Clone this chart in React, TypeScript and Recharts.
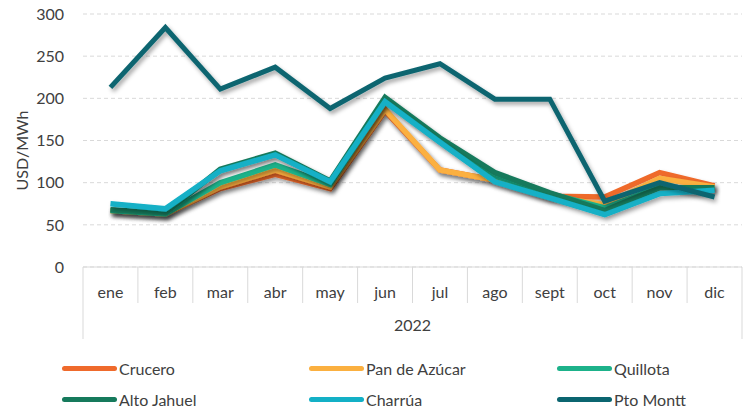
import { LineChart, Line, XAxis, YAxis, CartesianGrid, Legend } from 'recharts'

const meses = ['ene', 'feb', 'mar', 'abr', 'may', 'jun', 'jul', 'ago', 'sept', 'oct', 'nov', 'dic']
const crucero = [67, 63, 93, 110, 93, 185, 115, 103, 84, 83, 112, 96]
const panDeAzucar = [67, 63, 95, 115, 95, 187, 115, 103, 83, 74, 105, 95]
const quillota = [67, 63, 100, 121, 98, 198, 150, 108, 87, 70, 95, 92]
const altoJahuel = [68, 64, 116, 135, 102, 201, 153, 112, 88, 67, 94, 94]
const charrua = [75, 69, 114, 133, 101, 196, 148, 101, 82, 62, 87, 91]
const ptoMontt = [213, 284, 211, 237, 188, 224, 241, 199, 199, 78, 100, 83]
const yTicks = [0, 50, 100, 150, 200, 250, 300]
const anio = '2022'

const series = [
  { key: 'Crucero', values: crucero, color: '#EF6A2C' },
  { key: 'Pan de Azúcar', values: panDeAzucar, color: '#FBB040' },
  { key: 'Quillota', values: quillota, color: '#1DB28A' },
  { key: 'Alto Jahuel', values: altoJahuel, color: '#167A5C' },
  { key: 'Charrúa', values: charrua, color: '#13B0C6' },
  { key: 'Pto Montt', values: ptoMontt, color: '#0B6570' },
]

const data = meses.map((mes, i) => {
  const row: Record<string, string | number> = { mes }
  for (const s of series) row[s.key] = s.values[i]
  return row
})

const W = 743
const H = 411
const LEFT = 83
const RIGHT = 1
const BAND = (W - LEFT - RIGHT) / meses.length
const FONT = 'Lato, "Noto Sans", sans-serif'
const TXT = '#404040'
const GRIS = '#D9D9D9'

function MesTick(props: any) {
  const { x, y, payload, index } = props
  const izq = x - BAND / 2
  const der = x + BAND / 2
  return (
    <g>
      <line x1={izq} x2={izq} y1={y} y2={y + (index === 0 ? 72 : 36)} stroke={GRIS} />
      {index === meses.length - 1 && (
        <line x1={der} x2={der} y1={y} y2={y + 72} stroke={GRIS} />
      )}
      <text x={x} y={y + 31} textAnchor="middle" fill={TXT} fontSize={16} fontFamily={FONT}>
        {payload.value}
      </text>
    </g>
  )
}

// etiqueta del eje Y, un poco bajo el centro como en el original
function EtiquetaY(props: any) {
  const vb = props.viewBox ?? { y: 14, height: 253 }
  const cy = vb.y + vb.height / 2 + 10
  return (
    <text
      x={21}
      y={cy}
      transform={`rotate(-90, 21, ${cy})`}
      textAnchor="middle"
      dominantBaseline="central"
      fill={TXT}
      fontSize={16}
      fontFamily={FONT}
    >
      USD/MWh
    </text>
  )
}

function Leyenda() {
  const cols = [62, 309, 557]
  return (
    <div style={{ position: 'relative', width: W, height: 72, fontFamily: FONT }}>
      {series.map((s, i) => (
        <div
          key={s.key}
          style={{
            position: 'absolute',
            left: cols[i % 3],
            top: i < 3 ? 19 : 50,
            height: 20,
            display: 'flex',
            alignItems: 'center',
            fontSize: 16,
            color: TXT,
          }}
        >
          <span
            style={{
              display: 'inline-block',
              width: 55,
              height: 5,
              borderRadius: 3,
              background: s.color,
              marginRight: 2,
            }}
          />
          {s.key}
        </div>
      ))}
    </div>
  )
}

export default function App() {
  return (
    <div style={{ position: 'absolute', left: 0, top: 0, background: '#fff' }}>
      <LineChart width={W} height={H} data={data} margin={{ top: 14, right: RIGHT, left: 0, bottom: 0 }}>
        <defs>
          <filter id="sombra" x="-10%" y="-10%" width="130%" height="140%">
            <feDropShadow dx="2" dy="3" stdDeviation="2" floodColor="#000" floodOpacity="0.35" />
          </filter>
        </defs>
        <CartesianGrid vertical={false} stroke={GRIS} strokeDasharray="4 3" />
        <XAxis
          dataKey="mes"
          scale="band"
          interval={0}
          height={72}
          tickLine={false}
          tickSize={0}
          tickMargin={0}
          axisLine={{ stroke: GRIS }}
          tick={<MesTick />}
          label={{ value: anio, position: 'insideBottom', offset: 8, fill: TXT, fontSize: 16, fontFamily: FONT }}
        />
        <YAxis
          domain={[0, 300]}
          ticks={yTicks}
          width={LEFT}
          axisLine={false}
          tickLine={false}
          tickMargin={13}
          tick={{ fill: TXT, fontSize: 16, fontFamily: FONT }}
          label={<EtiquetaY />}
        />
        <Legend verticalAlign="bottom" height={72} content={() => <Leyenda />} />
        {series.map((s) => (
          <Line
            key={s.key}
            dataKey={s.key}
            stroke={s.color}
            strokeWidth={s.key === 'Pto Montt' ? 5 : 5.5}
            dot={false}
            activeDot={false}
            isAnimationActive={false}
            filter="url(#sombra)"
          />
        ))}
      </LineChart>
    </div>
  )
}
